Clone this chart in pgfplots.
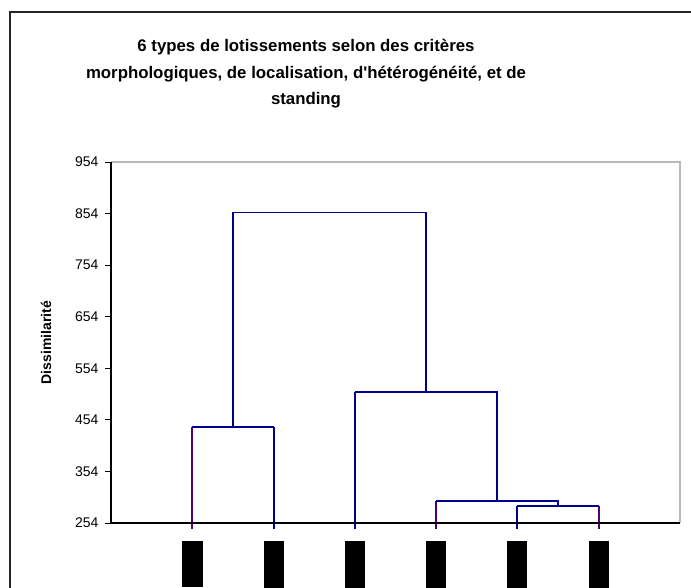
\documentclass[border=0pt]{standalone}
\usepackage{pgfplots}
\pgfplotsset{compat=1.18}
\usepackage{fontspec}
\setmainfont{Liberation Sans}
\definecolor{navy}{RGB}{0,0,140}
\definecolor{leafp}{RGB}{85,0,110}
\begin{document}
\begin{tikzpicture}
\useasboundingbox (0,0) rectangle (691bp,-588bp);
\draw[line width=1.3bp, black!85] (10bp,-600bp) -- (10bp,-12bp) -- (700bp,-12bp);
\node[font=\bfseries\fontsize{16.8bp}{26.5bp}\selectfont, align=center] at (306bp,-74bp) {6 types de lotissements selon des critères\\morphologiques, de localisation, d\textquotesingle hétérogénéité, et de\\standing};
\begin{axis}[
  at={(111bp,-523bp)}, anchor=south west,
  scale only axis, width=569bp, height=361bp,
  xmin=0, xmax=7, ymin=254, ymax=954,
  clip=false,
  axis line style={draw=none},
  ytick={254,354,454,554,654,754,854,954},
  ytick pos=left, tick align=outside,
  major tick length=6bp,
  tick style={black, line width=0.8bp},
  yticklabel style={font=\fontsize{14bp}{16bp}\selectfont, xshift=-3bp},
  /pgf/number format/assume math mode=true,
  xtick=\empty,
  extra x ticks={1,2,3,4,5,6},
  extra x tick labels={\rule{21bp}{46bp},\rule{20bp}{48bp},\rule{20bp}{48bp},\rule{20bp}{48bp},\rule{20bp}{48bp},\rule{20bp}{48bp}},
  extra x tick style={major tick length=0pt, tick style={draw=none}, grid=none},
  xticklabel style={anchor=north, inner sep=0pt, yshift=-18bp},
  ylabel={\bfseries Dissimilarité},
  ylabel style={font=\fontsize{14bp}{16bp}\selectfont, at={(axis description cs:-0.1142,0.5)}, anchor=center},
]
% leaf verticals
\addplot[leafp, line width=1.9bp, mark=none] coordinates {(1,242.4) (1,440)};
\addplot[navy, line width=1.9bp, mark=none] coordinates {(2,242.4) (2,440)};
\addplot[navy, line width=1.9bp, mark=none] coordinates {(3,242.4) (3,508)};
\addplot[leafp, line width=1.9bp, mark=none] coordinates {(4,242.4) (4,297)};
\addplot[navy, line width=1.9bp, mark=none] coordinates {(5,242.4) (5,287)};
\addplot[leafp, line width=1.9bp, mark=none] coordinates {(6,242.4) (6,287)};
% merges
\addplot[navy, line width=1.9bp, mark=none] coordinates {(1,440) (2,440)};
\addplot[navy, line width=1.9bp, mark=none] coordinates {(5,287) (6,287)};
\addplot[navy, line width=1.9bp, mark=none] coordinates {(4,297) (5.5,297) (5.5,287)};
\addplot[navy, line width=1.9bp, mark=none] coordinates {(3,508) (4.75,508) (4.75,297)};
\addplot[navy, line width=1.9bp, mark=none] coordinates {(1.5,440) (1.5,856) (3.875,856) (3.875,508)};
\draw[gray!55, line width=1.2bp] (rel axis cs:0,1) -- (rel axis cs:1,1) -- (rel axis cs:1,0);
\draw[black, line width=1.1bp] (rel axis cs:0,1) -- (rel axis cs:0,0) -- (rel axis cs:1,0);
\end{axis}
\end{tikzpicture}
\end{document}
